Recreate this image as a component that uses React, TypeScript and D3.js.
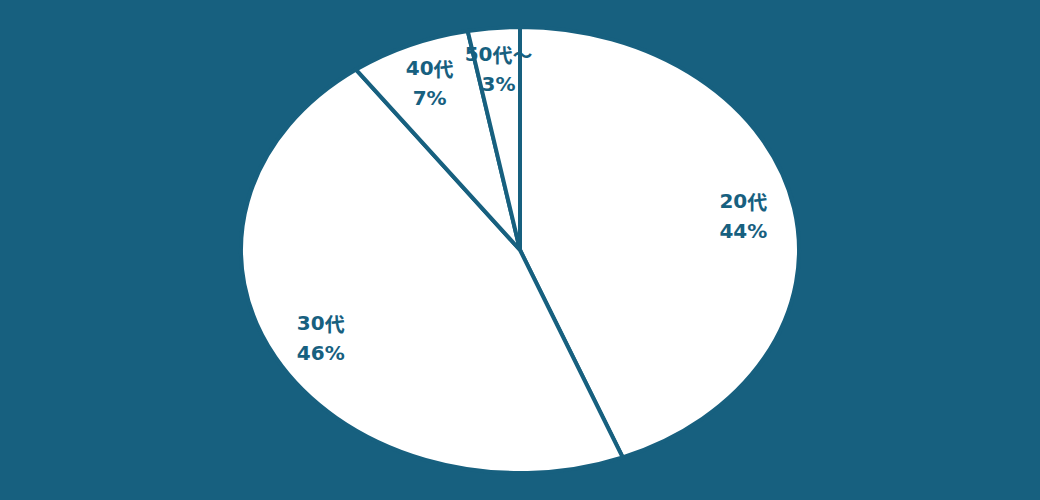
import React from "react";
import * as d3 from "d3";

const categories = ["20代", "30代", "40代", "50代～"];
const values = [44, 46, 7, 3];
const labels = ["44%", "46%", "7%", "3%"];

const W = 1040;
const H = 500;
const BG = "#17607f";
const CX = 520;
const CY = 250;
const RY = 223;
const RX = 279;

function renderCat(s: string) {
  return s.split("").map((ch, k) =>
    ch === "～" || ch === "代" ? (
      <tspan key={k} fontFamily="'Noto Sans CJK JP', sans-serif">{ch}</tspan>
    ) : (
      <tspan key={k}>{ch}</tspan>
    )
  );
}

export default function App() {
  const pie = d3.pie<number>().sort(null).value((d) => d);
  const arcs = pie(values);
  const arc = d3.arc<d3.PieArcDatum<number>>().innerRadius(0).outerRadius(RY);
  const sx = RX / RY;
  const labelR = RY * 0.815;
  return (
    <svg width={W} height={H} style={{ position: "fixed", left: 0, top: 0, background: BG }}>
      <rect x={0} y={0} width={W} height={H} fill={BG} />
      <g transform={`translate(${CX},${CY}) scale(${sx},1)`}>
        {arcs.map((a, i) => (
          <path
            key={i}
            d={arc(a) || ""}
            fill="#ffffff"
            stroke={BG}
            strokeWidth={4}
            strokeLinejoin="miter"
            vectorEffect="non-scaling-stroke"
          />
        ))}
      </g>
      {arcs.map((a, i) => {
        const mid = (a.startAngle + a.endAngle) / 2;
        const x = CX + Math.sin(mid) * labelR * sx;
        const y = CY - Math.cos(mid) * labelR;
        return (
          <g key={i} fontFamily="'DejaVu Sans', 'Noto Sans CJK JP', sans-serif" fontWeight="bold" fontSize={20} fill={BG} textAnchor="middle">
            <text x={x} y={y - 15} dominantBaseline="central">{renderCat(categories[i])}</text>
            <text x={x} y={y + 15} dominantBaseline="central">{labels[i]}</text>
          </g>
        );
      })}
    </svg>
  );
}
